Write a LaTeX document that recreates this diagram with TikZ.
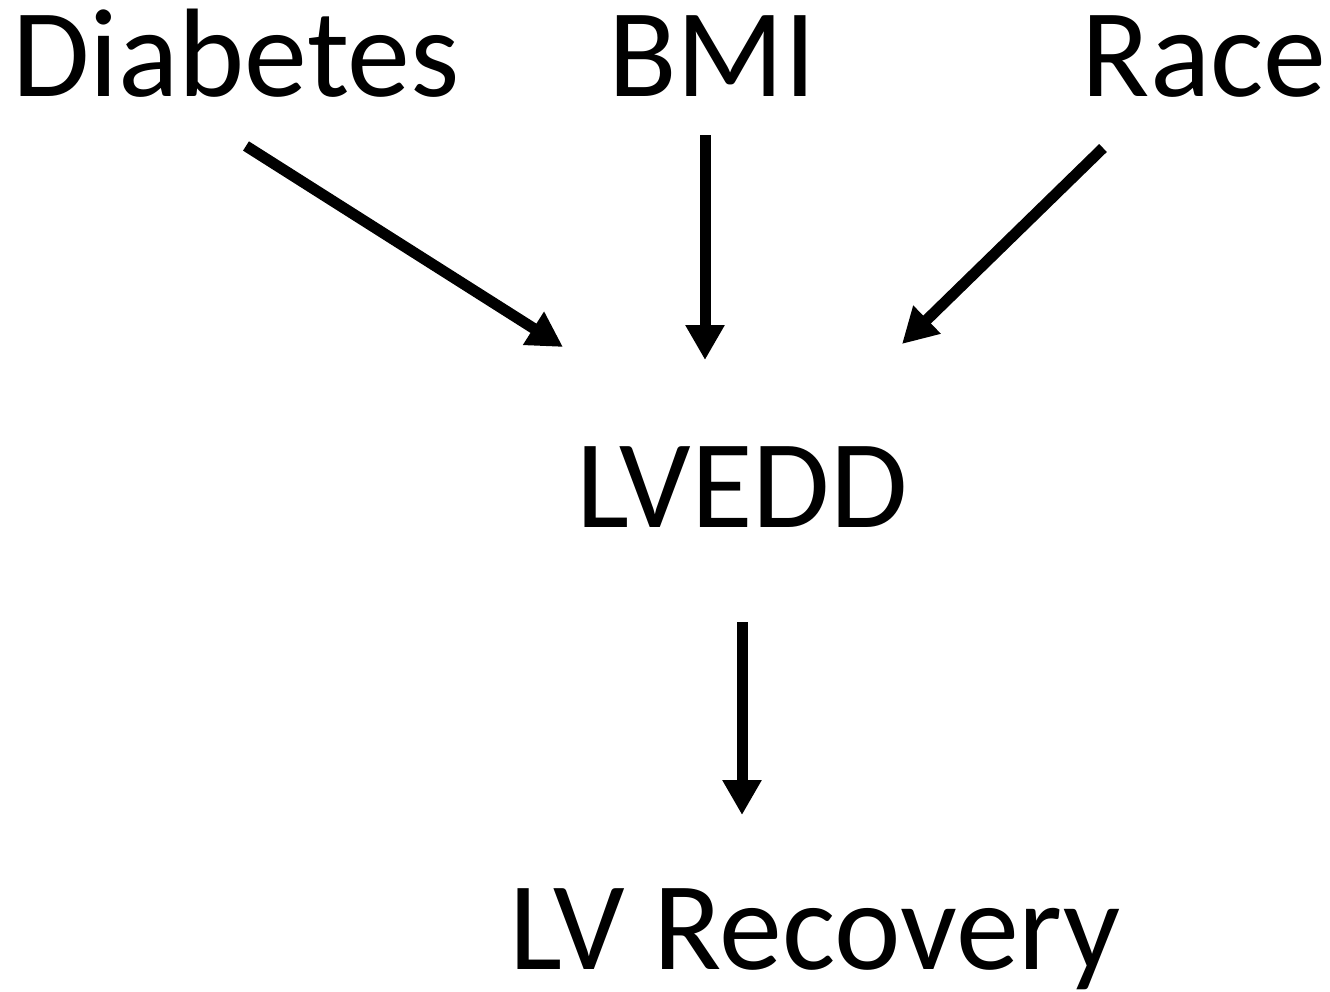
\documentclass[tikz,border=0pt]{standalone}
\usepackage{fontspec}
\setmainfont{Carlito}
\usetikzlibrary{arrows.meta, calc}

\begin{document}
\begin{tikzpicture}[
      x=1pt, y=-1pt,
      var/.style={inner sep=0pt, anchor=base,
        font=\fontsize{126}{150}\selectfont},
      link/.style={line width=11pt,
        -{Triangle[width=37pt, length=35pt]}}
    ]
      \useasboundingbox (0,0) rectangle (1330,991);
      % top row
      \node[var] (diab) at (236,96) {Diabetes};
      \node[var] (bmi) at (712,96) {BMI};
      \node[var] (race) at (1204,96) {Race};
      % mediator and outcome
      \node[var] (lvedd) at (742,527) {LVEDD};
      \node[var] (recov) at (815,969) {LV Recovery};
      \draw[link] ($(diab.base)+(10,50)$) -- ($(lvedd.base)+(-179,-180)$);
      \draw[link] ($(bmi.base)+(-7,39)$) -- ($(lvedd.base)+(-37,-167)$);
      \draw[link] ($(race.base)+(-101,52)$) -- ($(lvedd.base)+(160,-183)$);
      \draw[link] ($(lvedd.base)+(0,95)$) -- ($(recov.base)+(-73,-154)$);
    \end{tikzpicture}
\end{document}
